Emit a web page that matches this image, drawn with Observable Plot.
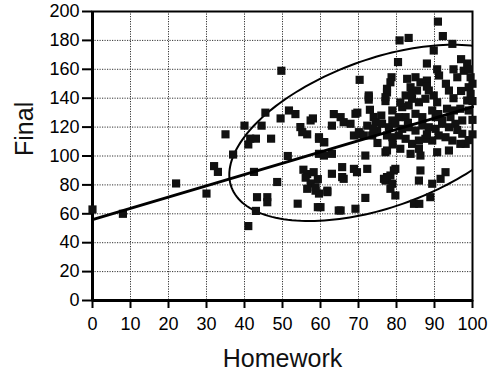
<!DOCTYPE html>
<html>
<head>
<meta charset="utf-8">
<script src="https://cdn.jsdelivr.net/npm/d3@7"></script>
<script src="https://cdn.jsdelivr.net/npm/@observablehq/plot@0.6"></script>
<style>
  html, body { margin: 0; padding: 0; background: #fff; }
  #chart svg { display: block; font-family: "Liberation Sans", Arial, sans-serif; }
</style>
</head>
<body>
<div id="chart"></div>
<script>
// Tick values
const xTicks = [0, 10, 20, 30, 40, 50, 60, 70, 80, 90, 100];
const yTicks = [0, 20, 40, 60, 80, 100, 120, 140, 160, 180, 200];
const xLabel = "Homework";
const yLabel = "Final";

// Scatter data (Homework, Final)
const homework = [
  0, 8, 22, 30, 32, 33, 37, 35, 40, 41.5, 43, 41, 47, 45.5, 44.5, 49.7, 49.5, 51.7, 53.4, 54.7,
  56.5, 58, 59.6, 61, 63.5, 63, 42.5, 48.6, 43.3, 46, 46, 43, 41, 51.4, 54, 55.5, 56.5, 58.2, 59.3, 57.4,
  58.7, 59.6, 61.8, 63, 59.3, 64.8, 56.1, 56.5, 58.7,
  55.2, 57.4, 59.6, 60.9, 59.6, 63, 60.9, 65.3, 66.1, 69.2, 69.7, 70.3, 72.7, 72.7, 74, 74.5, 70.5, 67.9, 68.8, 70.1,
  71.4, 73.6, 74.9, 72.3, 76.2, 77.5, 65.7, 66.1, 68.8, 69.6, 72.3, 71.8, 77.1, 65.7, 61.8, 71.8, 65.3, 69.2, 60, 76.7,
  90.9, 80.8, 83.2, 92.2, 94.7, 89.8, 80.4, 88, 90.7, 91.2, 98.6, 97.7, 96, 99.5, 99, 78.7, 78.4, 82.8, 85, 83.7,
  86.3, 88, 88.5, 85.4, 93.8, 77.5, 77.1, 82.4, 84.1, 83.2, 81.5, 85.9, 87.6, 89.8, 90.7, 89.4, 93.3, 95.1, 96.8, 98.6,
  99, 97.3, 94.2, 92, 90.3, 86.8, 85, 82.4, 80.6, 78.9, 78.9,
  78, 79.7, 81.5, 83.2, 85, 86.8, 88.5, 90.3, 92, 93.8, 95.5, 97.3, 98.2, 94.7, 92.9, 91.1, 89.4, 87.6, 85.9, 84.1,
  82.4, 80.6, 78.9, 77.5, 85.9, 90.7, 93.8, 86.3, 85.9, 89.4, 92.9, 91.6, 79.7, 78.4, 79.7, 84.6, 86, 88.9, 77.1, 77.5,
  79.3, 78.9, 78.4, 96.8, 86.3, 83.7, 99.5, 99, 72.7, 77.1, 77.5, 73.9,
  95, 97, 93, 88, 84, 81, 91, 96, 88, 83, 79, 81, 75, 76, 73, 95, 97, 100, 100, 100, 100, 99
];
const final = [
  63, 60, 81, 74, 93, 89, 101, 115, 121, 112, 112, 108, 112, 130, 121, 159, 126, 131.5, 129, 120,
  115, 126, 113, 109.5, 129, 121, 89, 82, 71.5, 71.5, 68, 62, 51.5, 100, 67, 90.5, 87.5, 88.8, 84, 81,
  76, 74, 76, 87.7, 64.6, 62.3, 85, 77.3, 78.4,
  116.5, 124.6, 111.9, 109.6, 101.5, 101.5, 100.3, 126.9, 123.4, 129.2, 130, 152.7, 141.9, 139, 127, 123.4, 115, 122.3, 114.2, 116.5,
  114.2, 114.2, 117.6, 121, 122.3, 114.2, 92.3, 84.2, 91.1, 88.8, 91.1, 100.3, 102.6, 85.4, 75, 71, 62.3, 63.5, 64.6, 84.2,
  193, 180, 181.7, 183, 177.6, 173, 165, 164, 160, 155.7, 164, 159, 154.5, 154.5, 147.6, 154.5, 151, 153.4, 154.5, 147.6,
  151, 152.2, 145.3, 145.3, 145.3, 144, 138, 141.9, 139.6, 135, 133.8, 137.2, 139.6, 141.9, 137.2, 131.5, 132.7, 131.5, 132.7, 138.4,
  131.5, 124.6, 126.9, 124.6, 126.9, 126.9, 129.2, 126.9, 126.9, 131.5, 124.6,
  119.9, 122.3, 118.8, 119.9, 117.6, 121.1, 119.9, 118.8, 122.3, 119.9, 122.3, 115.4, 108.4, 110.7, 113, 114.2, 110.7, 111.9, 110.7, 108.4,
  111.9, 114.2, 113, 103.8, 105, 102.6, 103.8, 90, 83, 80.8, 88.8, 84.2, 91.1, 86.5, 72.7, 66.9, 66.9, 71.5, 83, 85.4,
  90, 80.8, 77.3, 108.4, 100.3, 101.5, 143, 160, 140.7, 140.7, 146.5, 119,
  140, 145, 150, 148, 143, 137, 129, 118, 115, 123, 108, 105, 109, 128, 132, 160, 167, 150, 138, 125, 115, 111
];

// Regression line (intercept, slope) and prediction ellipse parameters
const lineIntercept = 56;
const lineSlope = 0.78;
const ellipseCenter = [76, 116];
const ellipseRadii = [40, 61];
const ellipseCorr = 0.475;

const points = homework.map((h, i) => ({h, f: final[i]}));
const regLine = [0, 100].map(h => ({h, f: lineIntercept + lineSlope * h}));
const ellipse = d3.range(0, 361, 2).map(deg => {
  const t = deg * Math.PI / 180;
  const r = ellipseCorr;
  return {
    h: ellipseCenter[0] + ellipseRadii[0] * Math.cos(t),
    f: ellipseCenter[1] + ellipseRadii[1] * (r * Math.cos(t) + Math.sqrt(1 - r * r) * Math.sin(t))
  };
});

const chart = Plot.plot({
  width: 498,
  height: 377,
  marginLeft: 92,
  marginRight: 26,
  marginTop: 11,
  marginBottom: 77,
  style: {fontFamily: '"Liberation Sans", Arial, sans-serif', background: "#fff", color: "#000"},
  x: {domain: [0, 100]},
  y: {domain: [0, 200]},
  marks: [
    Plot.ruleX(xTicks.slice(1, -1), {stroke: "#333", strokeWidth: 1, strokeDasharray: "1.2,1.3"}),
    Plot.ruleY(yTicks.slice(1, -1), {stroke: "#333", strokeWidth: 1, strokeDasharray: "1.2,1.3"}),
    Plot.axisX({ticks: xTicks, tickSize: 8, tickPadding: 9, tickFormat: d => String(d), fontSize: 18, label: null, strokeWidth: 2}),
    Plot.axisY({ticks: yTicks, tickSize: 10, tickPadding: 3, tickFormat: d => String(d), fontSize: 18, label: null, strokeWidth: 2}),
    Plot.frame({stroke: "#000", strokeWidth: 2}),
    Plot.ruleX([0], {stroke: "#000", strokeWidth: 3}),
    Plot.ruleY([0], {stroke: "#000", strokeWidth: 3}),
    Plot.line(ellipse, {x: "h", y: "f", stroke: "#000", strokeWidth: 2, clip: true, curve: "linear"}),
    Plot.dot(points, {x: "h", y: "f", symbol: "square", r: 4.6, fill: "#111", stroke: "none"}),
    Plot.line(regLine, {x: "h", y: "f", stroke: "#000", strokeWidth: 3}),
    Plot.text([xLabel], {frameAnchor: "bottom", dy: 66, fontSize: 25, fill: "#111"}),
    Plot.text([yLabel], {frameAnchor: "left", dx: -68, rotate: -90, fontSize: 25, fill: "#111"})
  ]
});
document.getElementById("chart").appendChild(chart);
</script>
</body>
</html>
